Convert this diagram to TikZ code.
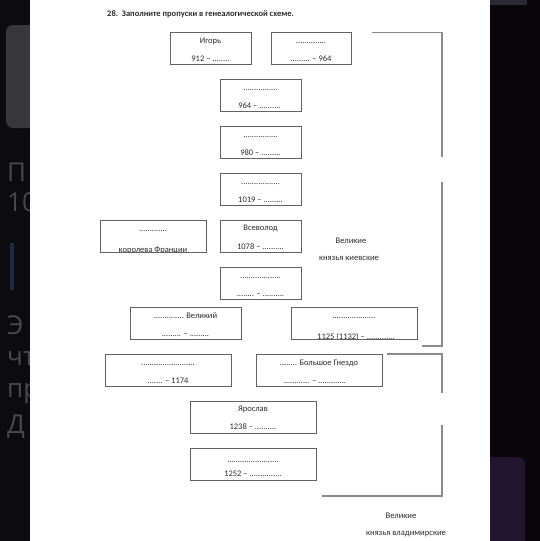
\documentclass[tikz,border=0pt]{standalone}
\usepackage{fontspec}
\setmainfont{Carlito}
\newfontfamily\uifont{Open Sans}
\definecolor{boxgray}{HTML}{626262}
\definecolor{brgray}{HTML}{8A8A8A}
\definecolor{txtgray}{HTML}{2C2C2C}
\definecolor{darkbg}{HTML}{0C0C10}
\definecolor{darkbgr}{HTML}{0A0609}
\definecolor{uigray}{HTML}{38383C}
\definecolor{uitext}{HTML}{48484D}
\definecolor{uiblue}{HTML}{1A2A48}
\definecolor{uipurple}{HTML}{22152F}
\definecolor{uistrip}{HTML}{2A2A38}
\begin{document}
\begin{tikzpicture}[x=1pt,y=-1pt,
  gbox/.style 2 args={draw=boxgray, line width=0.9pt, minimum width=#1, minimum height=#2, inner sep=0pt},
  txt/.style={font=\fontsize{8.5}{10}\selectfont, text=txtgray, inner sep=0pt, anchor=base},
  lbl/.style={font=\fontsize{8.6}{10}\selectfont, text=txtgray, inner sep=0pt, anchor=base},
  brk/.style={draw=brgray, line width=1.3pt},
  edge/.style={draw=boxgray, line width=0.9pt},
  uiletter/.style={font=\uifont\fontsize{26}{30}\selectfont, text=uitext, inner sep=0pt, anchor=base west}]
\useasboundingbox (0,0) rectangle (540,541);
% dark surroundings
\fill[darkbg] (0,0) rectangle (30,541);
\fill[darkbgr] (489,0) rectangle (540,541);
\fill[uigray, rounded corners=7pt] (6,25) rectangle (40,128);
\node[uiletter] (l1) at (7,181) {П};
\node[uiletter] (l2) at (7,211) {10};
\fill[uiblue] (10,243) rectangle (14,290);
\node[uiletter] (l3) at (7,334) {Э};
\node[uiletter] (l4) at (7,365) {чт};
\node[uiletter] (l5) at (7,397) {пр};
\node[uiletter] (l6) at (7,433) {Д};
\fill[uistrip] (489,0) rectangle (527,5);
\fill[uipurple, rounded corners=7pt] (480,457) rectangle (525,560);
% page
\fill[white] (29.5,0) rectangle (489.5,541);
% title
\node[anchor=base west, inner sep=0pt, text=txtgray, font=\bfseries\fontsize{8.5}{10}\selectfont] (title) at (107,16) {28.\ \ Заполните пропуски в генеалогической схеме.};
% boxes
\node[gbox={81pt}{32pt}] (igor) at (210.5,48) {};
\node[gbox={80pt}{32pt}] (b2) at (311,48) {};
\node[gbox={81pt}{32pt}] (b3) at (260.5,95) {};
\node[gbox={81pt}{32pt}] (b4) at (260.5,142) {};
\node[gbox={81pt}{32pt}] (b5) at (260.5,189) {};
\node[gbox={106pt}{32pt}] (queen) at (153,236) {};
\node[gbox={81pt}{32pt}] (vsev) at (260.5,236) {};
\node[gbox={81pt}{32pt}] (b6) at (260.5,283) {};
\node[gbox={111pt}{32pt}] (vel) at (185.5,323) {};
\node[gbox={126pt}{32pt}] (b1125) at (354,323) {};
\node[gbox={126pt}{32pt}] (b1174) at (168,370) {};
\node[gbox={126pt}{32pt}] (bg) at (319,370) {};
\node[gbox={126pt}{32pt}] (yar) at (253,417) {};
\node[gbox={126pt}{32pt}] (last) at (253,464) {};
% texts
\node[txt] at ([yshift=-12pt]igor.north) {Игорь};
\node[txt] at ([yshift=3pt]igor.south) {912 – ........};
\node[txt] at ([yshift=-12pt]b2.north) {..............};
\node[txt] at ([yshift=3pt]b2.south) {......... – 964};
\node[txt] at ([yshift=-12pt]b3.north) {................};
\node[txt] at ([xshift=-1pt,yshift=3pt]b3.south) {964 – ..........};
\node[txt] at ([yshift=-12pt]b4.north) {................};
\node[txt] at ([yshift=3pt]b4.south) {980 – .........};
\node[txt] at ([yshift=-12pt]b5.north) {..................};
\node[txt] at ([yshift=3pt]b5.south) {1019 – .........};
\node[txt] at ([yshift=-12pt]queen.north) {.............};
\node[txt] at ([yshift=0pt]queen.south) {королева Франции};
\node[txt] at ([yshift=-11pt]vsev.north) {Всеволод};
\node[txt] at ([yshift=3pt]vsev.south) {1078 – ..........};
\node[txt] at ([yshift=-12pt]b6.north) {...................};
\node[txt] at ([yshift=3pt]b6.south) {........ – ..........};
\node[txt] at ([yshift=-12pt]vel.north) {.............. Великий};
\node[txt] at ([yshift=3pt]vel.south) {......... – .........};
\node[txt] at ([yshift=-12pt]b1125.north) {....................};
\node[txt] at ([xshift=2pt,yshift=0pt]b1125.south) {1125 (1132) – .............};
\node[txt] at ([yshift=-12pt]b1174.north) {.........................};
\node[txt] at ([yshift=3pt]b1174.south) {....... – 1174};
\node[txt] at ([yshift=-12pt]bg.north) {........ Большое Гнездо};
\node[txt] at ([xshift=-4pt,yshift=3pt]bg.south) {............ – .............};
\node[txt] at ([yshift=-11pt]yar.north) {Ярослав};
\node[txt] at ([yshift=4pt]yar.south) {1238 – ..........};
\node[txt] at ([yshift=-15pt]last.north) {........................};
\node[txt] at ([yshift=4pt]last.south) {1252 – ...............};
% cut-off lower edges of two texts
\fill[white] ([yshift=-0.4pt]queen.south west) rectangle ([yshift=-4pt]queen.south east);
\draw[edge] (queen.south west) -- (queen.south east);
\fill[white] ([yshift=-0.4pt]b1125.south west) rectangle ([yshift=-4pt]b1125.south east);
\draw[edge] (b1125.south west) -- (b1125.south east);
% side labels
\node[lbl] (kiev1) at (351,243) {Великие};
\node[lbl] (kiev2) at (349,260) {князья киевские};
\node[lbl] (vlad1) at (401,518) {Великие};
\node[lbl] (vlad2) at (406,535) {князья владимирские};
% brackets
\draw[brk] (372,32.5) -| (442,157);
\draw[brk] (442,182) |- (422,346);
\draw[brk] (387,354) -| (442,393);
\draw[brk] (442,425) |- (322,496);
\end{tikzpicture}
\end{document}
